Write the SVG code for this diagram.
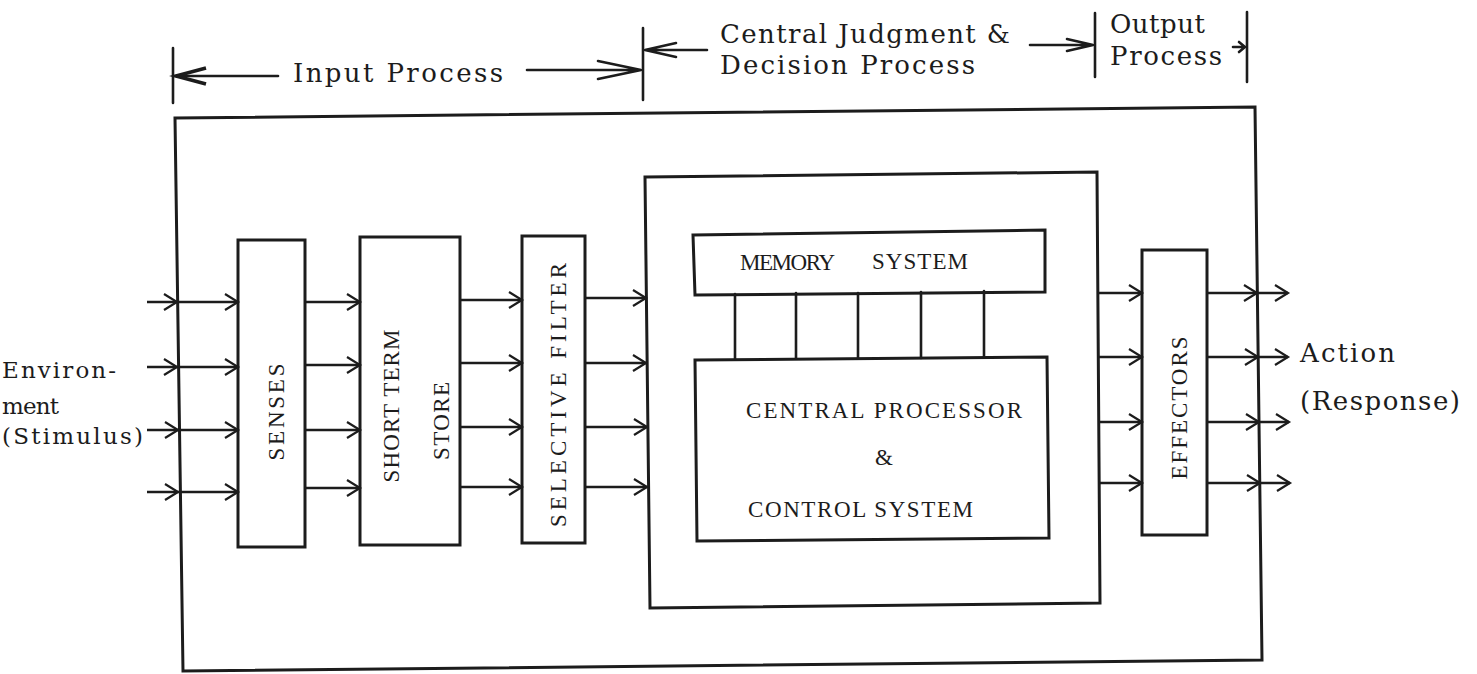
<svg xmlns="http://www.w3.org/2000/svg" width="1477" height="674" viewBox="0 0 1477 674">
<style>
.ln{fill:none;stroke:#1c1c1c;stroke-width:2.6;stroke-linejoin:miter;stroke-linecap:round}
.bx{fill:none;stroke:#1c1c1c;stroke-width:3}
.t{font-family:"DejaVu Serif","Liberation Serif",serif;font-size:26px;fill:#1c1c1c}
.e{font-family:"DejaVu Serif","Liberation Serif",serif;font-size:23px;fill:#1c1c1c}
.c{font-family:"Liberation Serif","Times New Roman",serif;font-size:23px;fill:#1c1c1c}
.ar{fill:none;stroke:#1c1c1c;stroke-width:2.4;marker-mid:url(#ch);marker-end:url(#ch)}
</style>
<defs>
<marker id="ch" markerUnits="userSpaceOnUse" viewBox="-16 -11 18 22" refX="0" refY="0" markerWidth="18" markerHeight="22" orient="auto" overflow="visible">
<path d="M-13,-8 L0,0 L-13,8" fill="none" stroke="#1c1c1c" stroke-width="2.2"/>
</marker>
</defs>
<rect width="1477" height="674" fill="#ffffff"/>

<g id="phase-labels">
<text class="t" x="293" y="82" textLength="210" lengthAdjust="spacing">Input Process</text>
<text class="t" x="720" y="43" textLength="290" lengthAdjust="spacing">Central Judgment &amp;</text>
<text class="t" x="720" y="74" textLength="255" lengthAdjust="spacing">Decision Process</text>
<text class="t" x="1110" y="33" textLength="95" lengthAdjust="spacing">Output</text>
<text class="t" x="1110" y="65" textLength="112" lengthAdjust="spacing">Process</text>
</g>

<g id="environment">
<text class="e" x="2" y="378" textLength="114" lengthAdjust="spacing">Environ-</text>
<text class="e" x="2" y="414" textLength="57" lengthAdjust="spacing">ment</text>
<text class="e" x="2" y="444" textLength="141" lengthAdjust="spacing">(Stimulus)</text>
</g>

<g id="system-boundary">
<polygon class="bx" points="175,118 1255,107 1262,660 183,671"/>
</g>

<g id="senses">
<rect class="bx" x="238" y="240" width="67" height="307"/>
<text class="c" transform="translate(284,412) rotate(-90)" text-anchor="middle" textLength="97" lengthAdjust="spacing">SENSES</text>
</g>

<g id="short-term-store">
<rect class="bx" x="360" y="237" width="100" height="308"/>
<text class="c" transform="translate(399,406) rotate(-90)" text-anchor="middle" textLength="153" lengthAdjust="spacing">SHORT TERM</text>
<text class="c" transform="translate(449,421) rotate(-90)" text-anchor="middle" textLength="78" lengthAdjust="spacing">STORE</text>
</g>

<g id="selective-filter">
<rect class="bx" x="522" y="236" width="63" height="307"/>
<text class="c" transform="translate(566,395) rotate(-90)" text-anchor="middle" textLength="264" lengthAdjust="spacing">SELECTIVE FILTER</text>
</g>

<g id="central-process">
<polygon class="bx" points="645,177 1097,172 1100,603 650,608"/>
</g>

<g id="memory-system">
<polygon class="bx" points="693,235 1045,230 1045,292 695,295"/>
<text class="c" x="740" y="270" textLength="95" lengthAdjust="spacing">MEMORY</text>
<text class="c" x="872" y="269" textLength="96" lengthAdjust="spacing">SYSTEM</text>
</g>

<g id="central-processor">
<polygon class="bx" points="695,360 1047,357 1049,538 697,541"/>
<text class="c" x="746" y="418" textLength="276" lengthAdjust="spacing">CENTRAL PROCESSOR</text>
<text class="c" x="875" y="465">&amp;</text>
<text class="c" x="748" y="517" textLength="225" lengthAdjust="spacing">CONTROL SYSTEM</text>
</g>

<g id="effectors">
<rect class="bx" x="1142" y="250" width="65" height="285"/>
<text class="c" transform="translate(1187,408) rotate(-90)" text-anchor="middle" textLength="143" lengthAdjust="spacing">EFFECTORS</text>
</g>

<g id="connectors">
<path class="ln" d="M173,48 V103 M643,28 V100 M1095,13 V77 M1247,12 V82"/>
<path class="ln" d="M278,76 H176"/>
<path d="M206,68 L176,76 L206,84" fill="none" stroke="#1c1c1c" stroke-width="3.6" stroke-linejoin="miter"/>
<path class="ln" d="M527,70 H641 M598,61 L641,70 L598,79"/>
<path class="ln" d="M707,50 H645 M676,43 L645,50 L676,57"/>
<path class="ln" d="M1030,45 H1093 M1067,39 L1093,45 L1067,51"/>
<path class="ln" d="M1233,47 H1245 M1239,42 L1245,47 L1239,52" stroke-width="2"/>

<polyline class="ar" points="147,302 177,302 238,302"/>
<polyline class="ar" points="147,367 177,367 238,367"/>
<polyline class="ar" points="147,430 178,430 238,430"/>
<polyline class="ar" points="147,492 178,492 238,492"/>

<polyline class="ar" points="305,302 360,302"/>
<polyline class="ar" points="305,365 360,365"/>
<polyline class="ar" points="305,430 360,430"/>
<polyline class="ar" points="305,488 360,488"/>

<polyline class="ar" points="460,300 522,300"/>
<polyline class="ar" points="460,363 522,363"/>
<polyline class="ar" points="460,427 522,427"/>
<polyline class="ar" points="460,487 522,487"/>

<polyline class="ar" points="585,298 646,298"/>
<polyline class="ar" points="585,363 646,363"/>
<polyline class="ar" points="585,427 647,427"/>
<polyline class="ar" points="585,487 647,487"/>

<path class="ln" d="M735,294 V359 M796,293 V358 M858,293 V358 M921,292 V358 M984,291 V357"/>

<polyline class="ar" points="1098,293 1142,293"/>
<polyline class="ar" points="1098,357 1142,357"/>
<polyline class="ar" points="1099,422 1142,422"/>
<polyline class="ar" points="1099,483 1142,483"/>

<polyline class="ar" points="1207,293 1257,293 1288,293"/>
<polyline class="ar" points="1207,357 1258,357 1288,357"/>
<polyline class="ar" points="1207,422 1259,422 1289,422"/>
<polyline class="ar" points="1207,483 1260,483 1290,483"/>
</g>

<g id="action">
<text class="t" x="1300" y="362" textLength="95" lengthAdjust="spacing">Action</text>
<text class="t" x="1300" y="410" textLength="160" lengthAdjust="spacing">(Response)</text>
</g>
</svg>
